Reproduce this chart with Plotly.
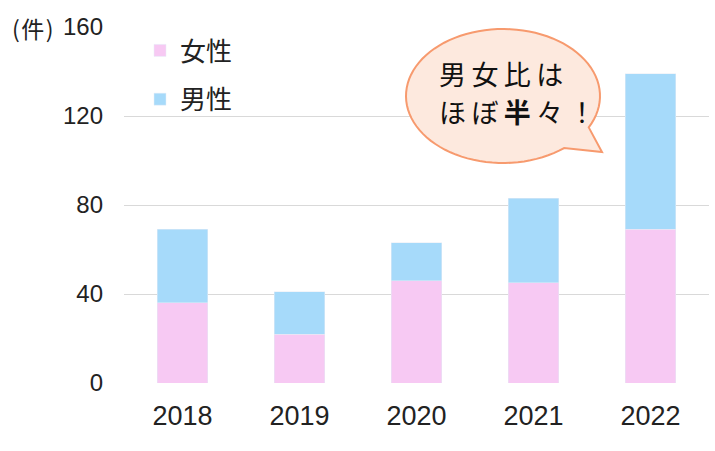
import numpy as np
import plotly.graph_objects as go

years = ["2018", "2019", "2020", "2021", "2022"]
female = [36, 22, 46, 45, 69]
male = [33, 19, 17, 38, 70]
y_ticks = [0, 40, 80, 120, 160]

PINK = "#F7C9F3"
BLUE = "#A6DAFA"
FONT = "Arial, Liberation Sans, Noto Sans CJK JP, sans-serif"
JP = "Noto Sans CJK JP, sans-serif"

W, H = 715, 451
L, R, T, B = 124, 6, 27, 68
PW, PH = W - L - R, H - T - B


def px(x):
    return (x - L) / PW


def py(y):
    return (H - B - y) / PH


SP = "\u2009"
HSP = "\u200a"


def spaced(s):
    return SP.join(s)


fig = go.Figure()
fig.add_trace(go.Bar(x=years, y=female, name="女性", marker=dict(color=PINK),
                     legendgroup="f"))
fig.add_trace(go.Bar(x=years, y=male, name="男性", marker=dict(color=BLUE),
                     legendgroup="m"))

# speech bubble (decoration) in paper coordinates
cx, cy, rx, ry = 503, 96, 97, 67
a1, a2 = np.deg2rad(27.9), np.deg2rad(50.9)
tip = (602, 152)
pts = [(cx + rx * np.cos(a1), cy + ry * np.sin(a1)), tip,
       (cx + rx * np.cos(a2), cy + ry * np.sin(a2))]
for t in np.linspace(a2, a1 + 2 * np.pi, 90)[1:]:
    pts.append((cx + rx * np.cos(t), cy + ry * np.sin(t)))
path = "M" + " L".join(f"{px(x):.5f},{py(y):.5f}" for x, y in pts) + " Z"
fig.add_shape(type="path", path=path, xref="paper", yref="paper",
              fillcolor="#FDE9DE", line=dict(color="#F79A6E", width=2), layer="above")

fig.add_annotation(text=spaced("男女比は"), x=px(437), y=py(73), xref="paper", yref="paper",
                   xanchor="left", yanchor="middle", showarrow=False,
                   font=dict(family=JP, size=27, color="#111"))
fig.add_annotation(text=spaced("ほぼ") + SP + "<b>半</b>" + SP + spaced("々！"),
                   x=px(437), y=py(111), xref="paper", yref="paper",
                   xanchor="left", yanchor="middle", showarrow=False,
                   font=dict(family=JP, size=27, color="#111"))
fig.add_annotation(text="(" + HSP + "件" + HSP + ")", x=px(10), y=py(28),
                   xref="paper", yref="paper",
                   xanchor="left", yanchor="middle", showarrow=False,
                   font=dict(family=JP, size=23, color="#222"))

fig.update_layout(
    width=W, height=H,
    margin=dict(l=L, r=R, t=T, b=B),
    barmode="stack", bargap=0.57,
    plot_bgcolor="white", paper_bgcolor="white",
    font=dict(family=FONT, color="#222"),
    showlegend=True,
    legend=dict(x=px(140), y=py(27), xanchor="left", yanchor="top",
                traceorder="grouped", tracegroupgap=12,
                font=dict(family=JP, size=26, color="#222"),
                bgcolor="rgba(0,0,0,0)"),
    xaxis=dict(showgrid=False, showline=False, ticks="",
               tickfont=dict(size=27), ticklabelstandoff=14),
    yaxis=dict(range=[0, 160], tickvals=y_ticks, showgrid=True,
               gridcolor="#D9D9D9", gridwidth=1.2, zeroline=False,
               ticks="", tickfont=dict(size=24), ticklabelstandoff=20),
)

fig.write_html("out.html", config={"displayModeBar": False},
               post_script="document.body.style.margin='0';")
